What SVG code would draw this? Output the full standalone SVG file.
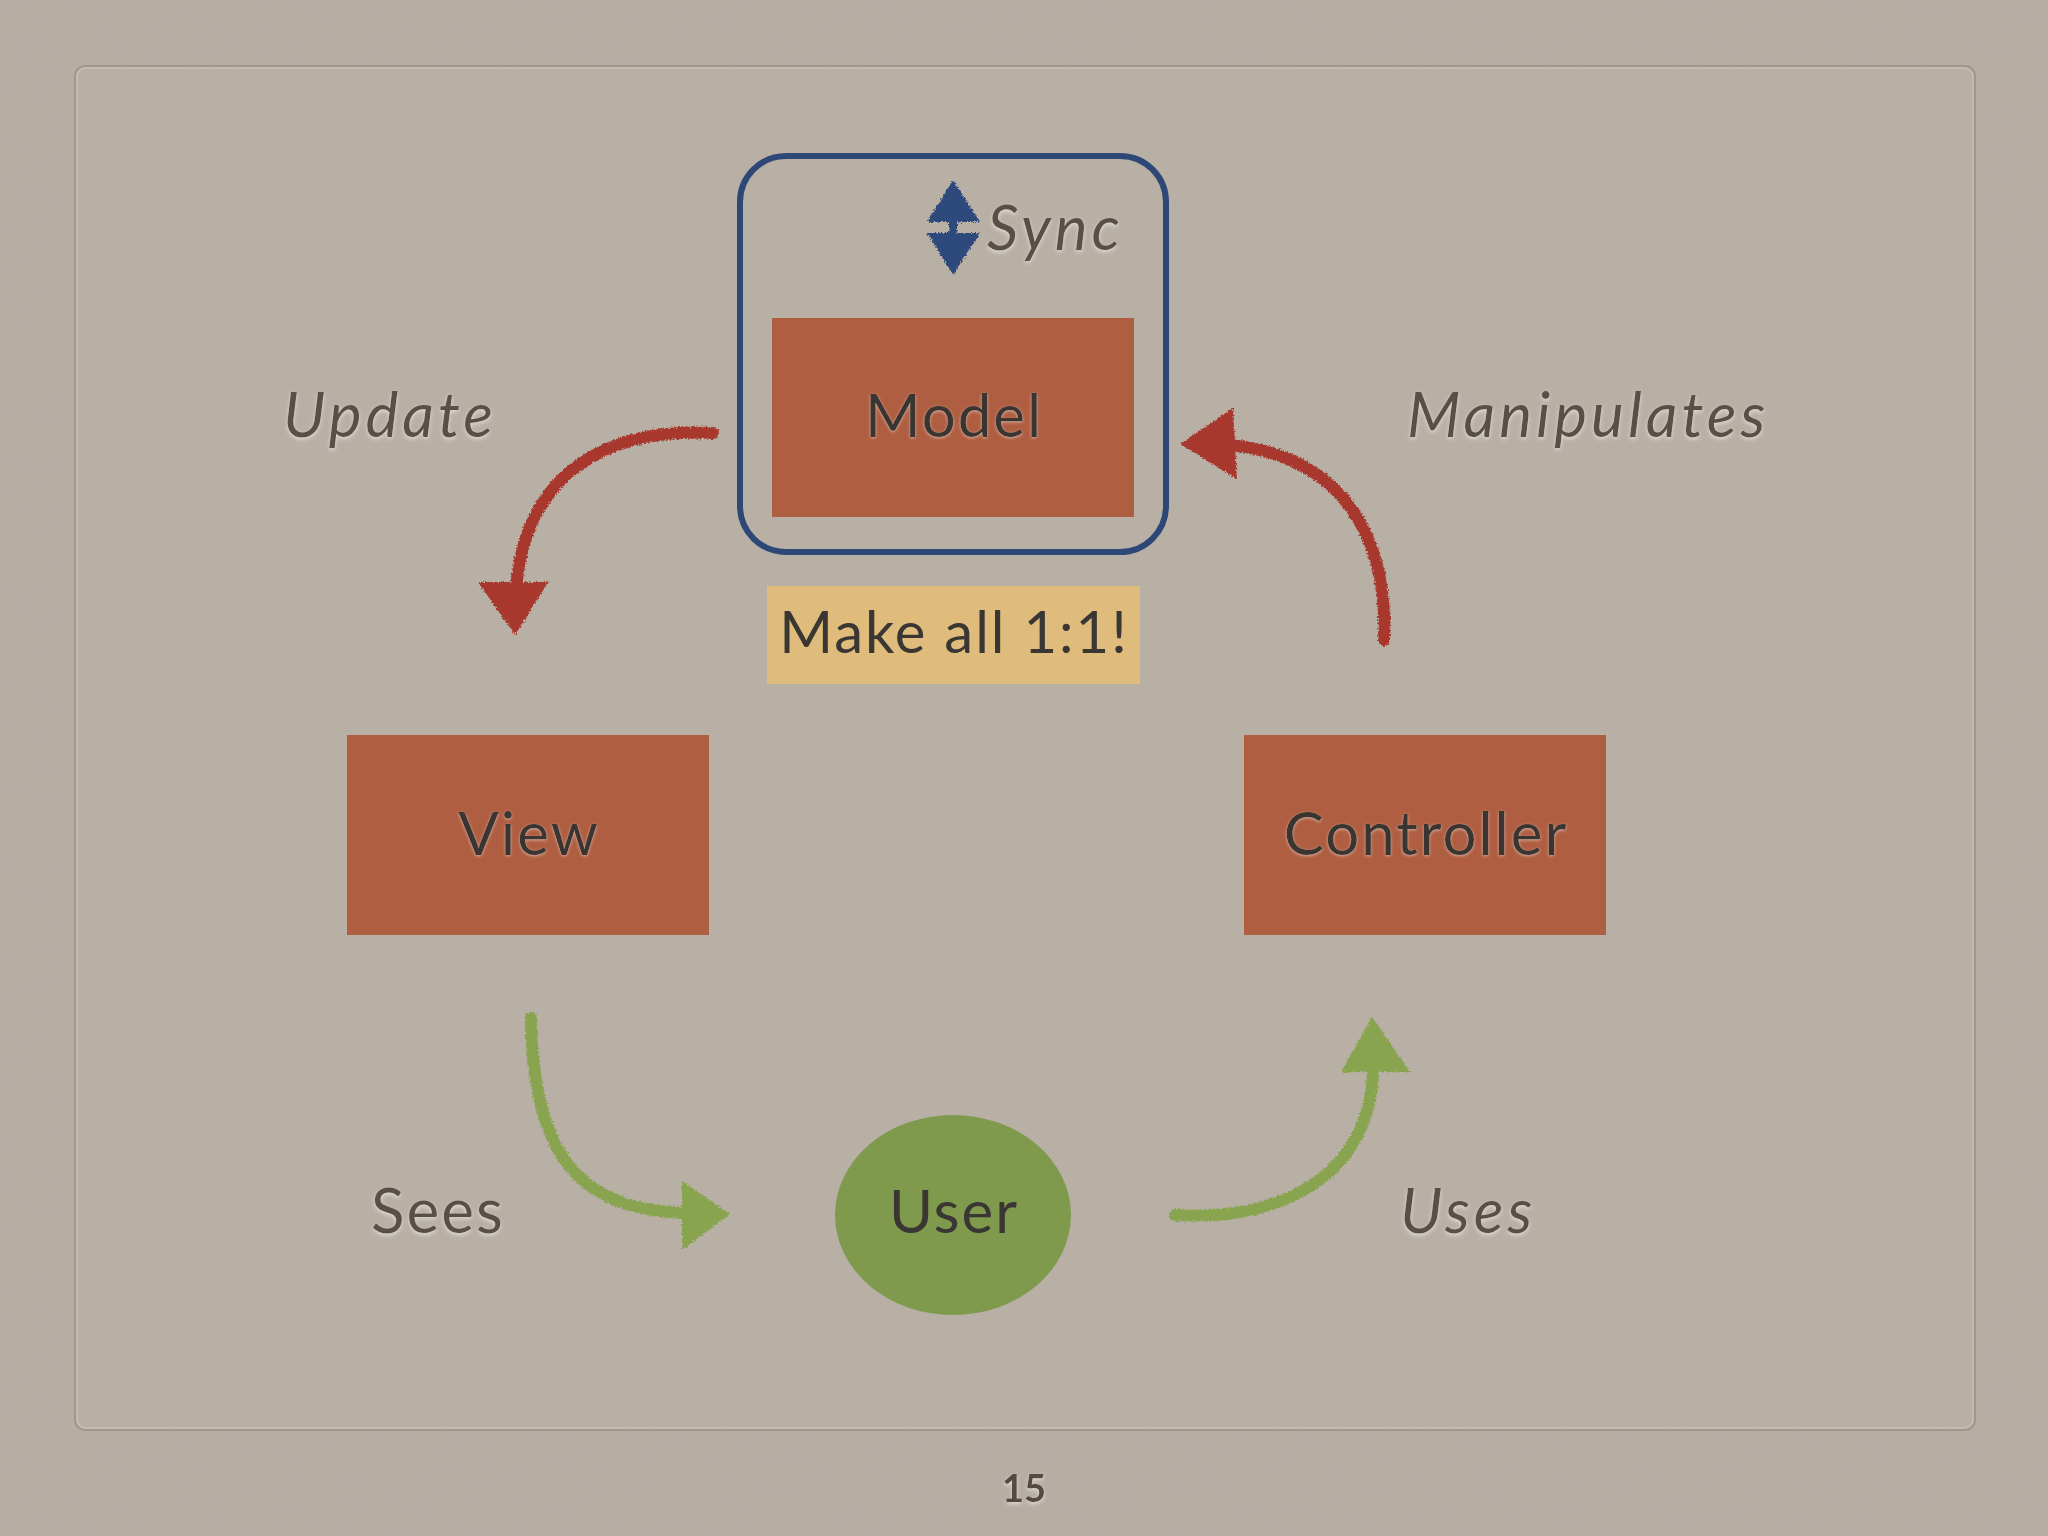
<svg xmlns="http://www.w3.org/2000/svg" width="2048" height="1536" viewBox="0 0 2048 1536">
  <defs>
    <filter id="paper" x="0" y="0" width="100%" height="100%">
      <feTurbulence type="fractalNoise" baseFrequency="0.9" numOctaves="2" seed="3" result="n"/>
      <feColorMatrix type="matrix" values="0 0 0 0 0.45  0 0 0 0 0.42  0 0 0 0 0.38  0 0 0 -1.1 0.75" />
    </filter>
    <filter id="chalk" x="-10%" y="-10%" width="120%" height="120%">
      <feTurbulence type="fractalNoise" baseFrequency="0.6" numOctaves="2" seed="7" result="t"/>
      <feDisplacementMap in="SourceGraphic" in2="t" scale="5" xChannelSelector="R" yChannelSelector="G"/>
    </filter>
    <filter id="glow" x="-10%" y="-20%" width="120%" height="150%">
      <feDropShadow dx="0" dy="2" stdDeviation="2" flood-color="#ffffff" flood-opacity="0.55"/>
    </filter>
    <filter id="soft" x="-5%" y="-5%" width="110%" height="110%">
      <feDropShadow dx="0" dy="1" stdDeviation="1.5" flood-color="#e9e2d8" flood-opacity="0.6"/>
    </filter>
  </defs>
  <style>
    .node { fill: #b05e42; }
    .nlabel { font-family: Lato, "Noto Sans", "Liberation Sans", sans-serif; font-size: 60px; letter-spacing: 2px; fill: #3a3633; text-anchor: middle; }
    .elabel { font-family: Lato, "Noto Sans", "Liberation Sans", sans-serif; font-size: 62px; letter-spacing: 4px; font-style: italic; fill: #5a4f47; }
    .red { fill: none; stroke: #a8382f; stroke-width: 12; stroke-linecap: round; }
    .redhead { fill: #a8382f; }
    .green { fill: none; stroke: #88a450; stroke-width: 12; stroke-linecap: round; }
    .greenhead { fill: #88a450; }
  </style>

  <!-- background -->
  <rect x="0" y="0" width="2048" height="1536" fill="#b6ada3"/>
  <rect x="0" y="0" width="2048" height="1536" filter="url(#paper)" opacity="0.35"/>
  <rect x="75" y="66" width="1900" height="1364" rx="10" fill="#b8afa5" stroke="#a0978d" stroke-width="2"/>
  <rect x="77" y="68" width="1896" height="1360" rx="9" fill="none" stroke="#c6beb4" stroke-width="1.5"/>

  <!-- sync container -->
  <g id="sync">
    <rect x="740" y="156" width="426" height="396" rx="46" fill="none" stroke="#2d4877" stroke-width="6"/>
    <g filter="url(#chalk)" fill="#2d4a7c">
      <polygon points="953,180 980,222 957,222 957,233 980,233 953,275 927,233 949,233 949,222 927,222"/>
    </g>
    <text class="elabel" x="987" y="250" filter="url(#glow)">Sync</text>
  </g>

  <g id="model">
    <rect class="node" x="772" y="318" width="362" height="199"/>
    <text class="nlabel" x="954" y="437" filter="url(#soft)">Model</text>
  </g>

  <g id="note">
    <rect x="767" y="586" width="373" height="98" fill="#dfbc7b"/>
    <text class="nlabel" x="954" y="653" style="font-size:58px">Make all 1:1!</text>
  </g>

  <g id="view">
    <rect class="node" x="347" y="735" width="362" height="200"/>
    <text class="nlabel" x="529" y="855" filter="url(#soft)">View</text>
  </g>

  <g id="controller">
    <rect class="node" x="1244" y="735" width="362" height="200"/>
    <text class="nlabel" x="1426" y="855" filter="url(#soft)">Controller</text>
  </g>

  <g id="user">
    <ellipse cx="953" cy="1215" rx="118" ry="100" fill="#7f994d"/>
    <text class="nlabel" x="954" y="1233">User</text>
  </g>

  <!-- connectors -->
  <g id="connectors" filter="url(#chalk)">
    <path class="red" d="M713,433 C610,428 525,470 516,590"/>
    <polygon class="redhead" points="478,582 548,582 515,635"/>
    <path class="red" d="M1384,640 C1388,540 1345,455 1228,445"/>
    <polygon class="redhead" points="1233,408 1180,444 1237,479"/>
    <path class="green" d="M531,1018 C533,1150 575,1212 690,1213"/>
    <polygon class="greenhead" points="682,1181 730,1214 682,1250"/>
    <path class="green" d="M1175,1215 C1295,1222 1372,1165 1373,1068"/>
    <polygon class="greenhead" points="1341,1072 1372,1017 1410,1072"/>
  </g>

  <!-- edge labels -->
  <g id="labels">
    <text class="elabel" x="283" y="437" filter="url(#glow)">Update</text>
    <text class="elabel" x="1407" y="437" filter="url(#glow)">Manipulates</text>
    <text class="elabel" x="371" y="1233" style="font-style:normal;letter-spacing:2px" filter="url(#glow)">Sees</text>
    <text class="elabel" x="1400" y="1233" filter="url(#glow)">Uses</text>
  </g>

  <text x="1024" y="1502" font-family="Lato, 'Liberation Sans', sans-serif" font-size="38" font-weight="bold" fill="#544a43" text-anchor="middle" filter="url(#glow)">15</text>
</svg>
